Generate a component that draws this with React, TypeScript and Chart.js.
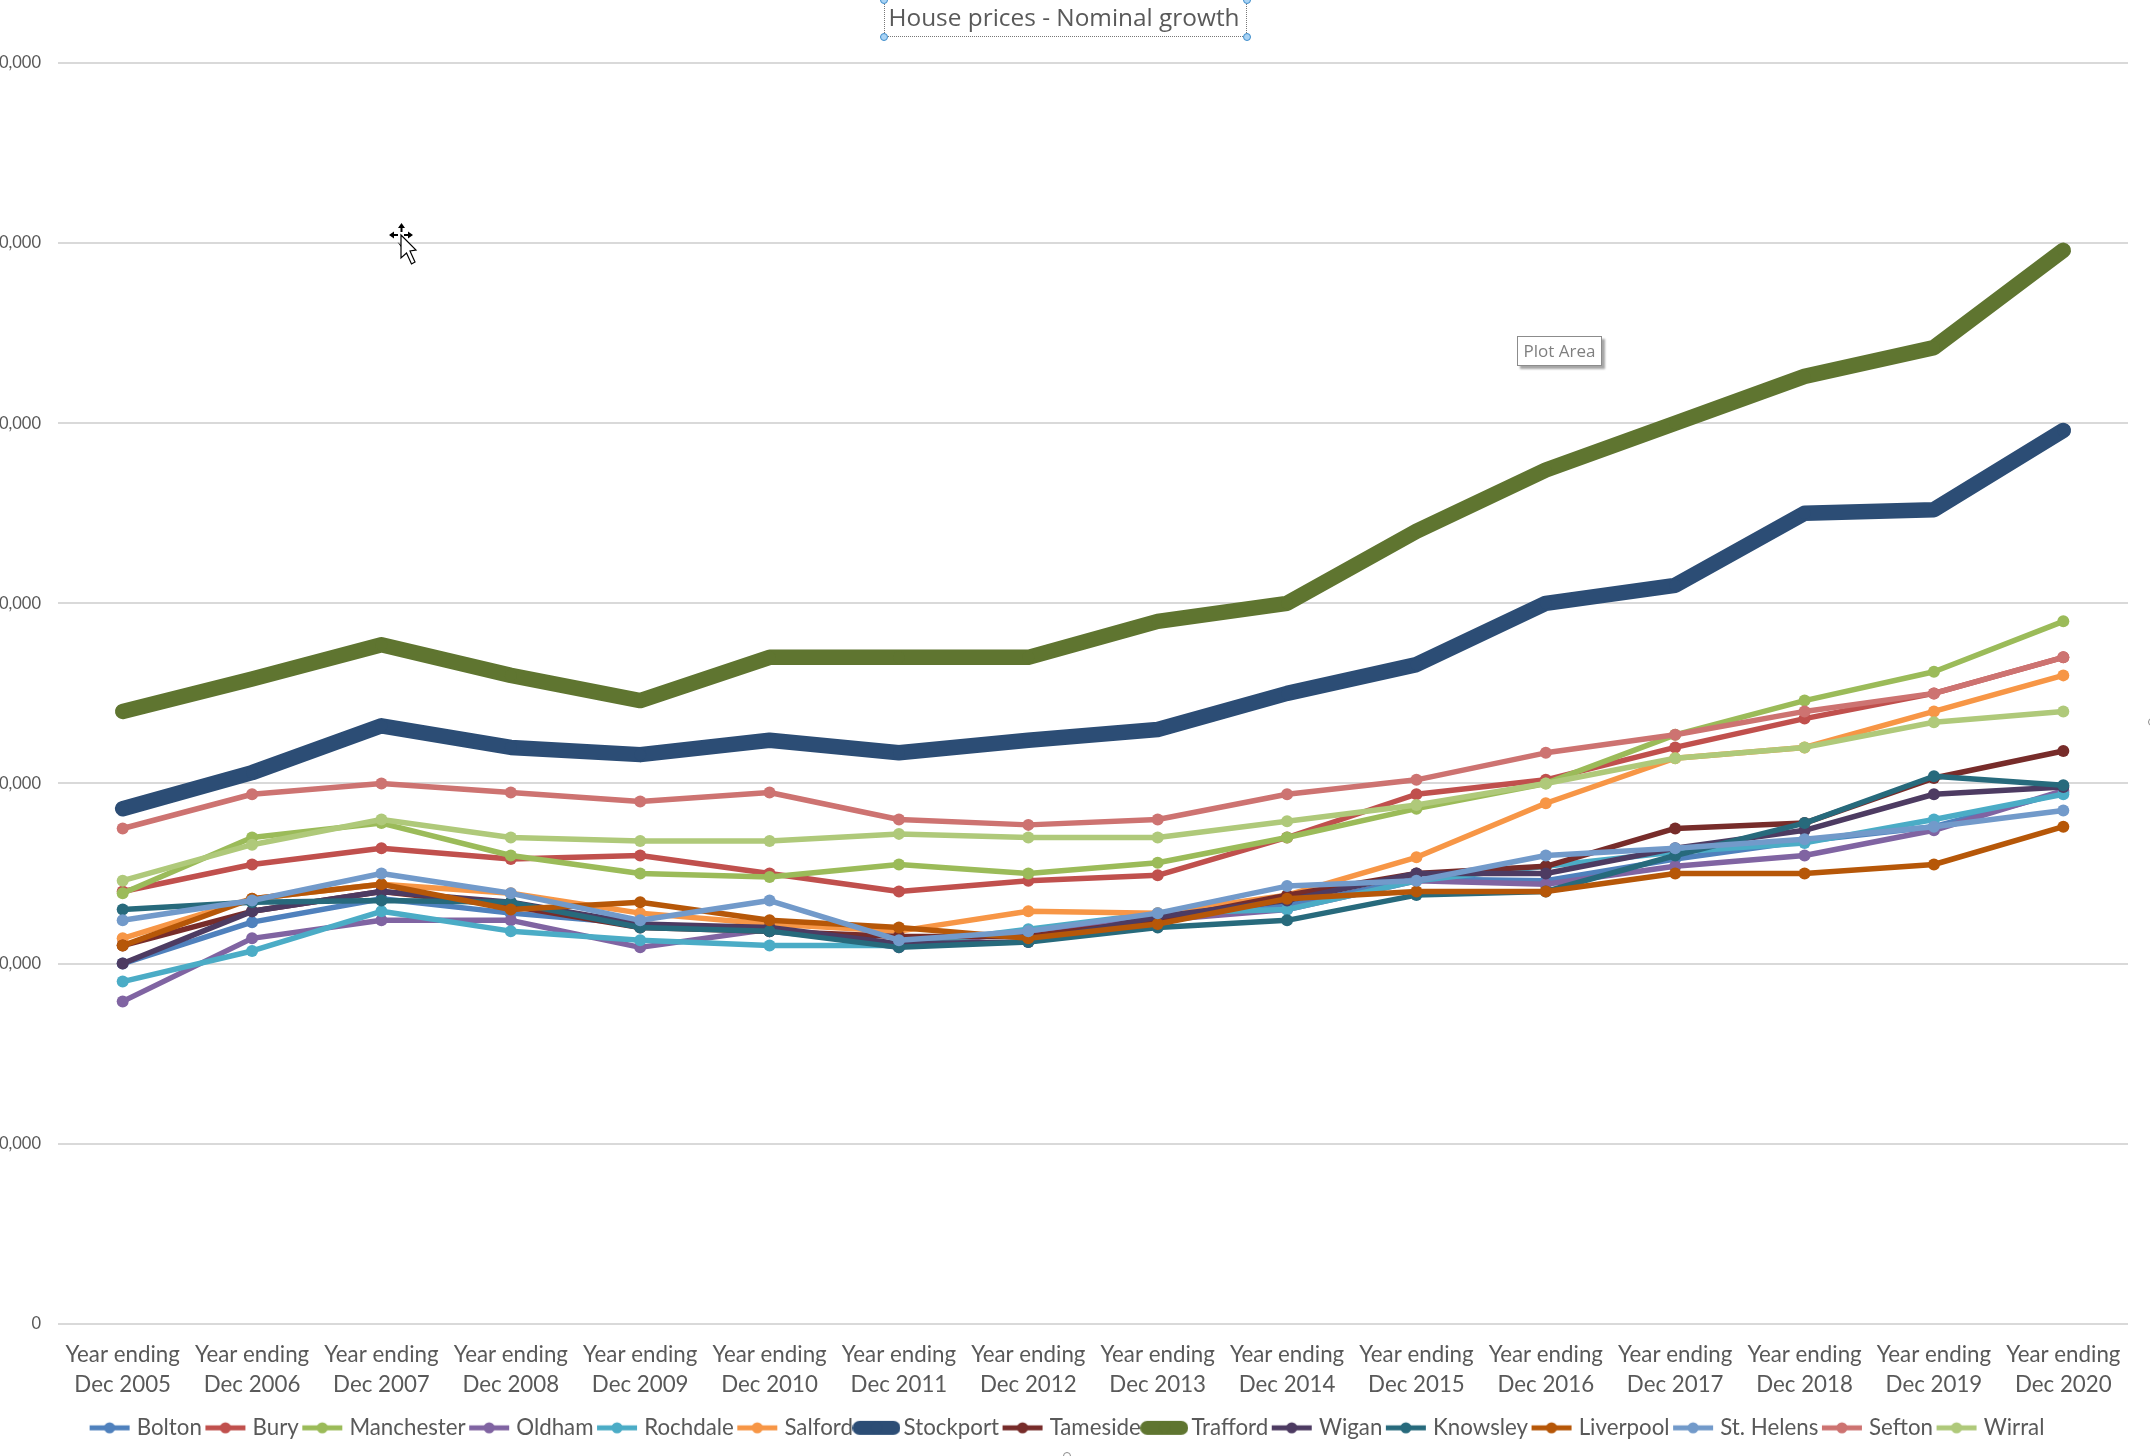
import React, { useEffect, useRef } from "react";
import { Chart, registerables } from "chart.js";

Chart.register(...registerables);

const years = ["2005","2006","2007","2008","2009","2010","2011","2012","2013","2014","2015","2016","2017","2018","2019","2020"];
const categories = years.map((y) => ["Year ending", "Dec " + y]);

const bolton =     [100000,111500,118000,114000,111000,109000,105500,109000,113000,116000,123500,123000,129000,134000,138000,147500];
const bury =       [120000,127500,132000,129000,130000,125000,120000,123000,124500,135000,147000,151000,160000,168000,175000,185000];
const manchester = [119500,135000,139000,130000,125000,124000,127500,125000,128000,135000,143000,150000,163500,173000,181000,195000];
const oldham =     [89500,107000,112000,112000,104500,109500,104500,109000,112000,115000,123000,122000,127000,130000,137000,148000];
const rochdale =   [95000,103500,114500,109000,106500,105000,105000,109500,114000,115000,123000,127000,131000,133500,140000,147000];
const salford =    [107000,118000,122000,119500,114000,111000,109000,114500,114000,119000,129500,144500,157000,160000,170000,180000];
const stockport =  [143000,153000,166000,160000,158000,162000,158500,162000,165000,175000,183000,200000,205000,225000,226000,248000];
const tameside =   [105000,114500,120000,116000,110000,109000,107500,107500,112000,119000,125000,127000,137500,139000,151500,159000];
const trafford =   [170000,179000,188500,180000,173000,185000,185000,185000,195000,200000,220000,237000,250000,263000,271000,298000];
const wigan =      [100000,114500,120000,117000,111000,110000,105500,106000,113000,117500,125000,125000,132000,137000,147000,149000];
const knowsley =   [115000,117000,117500,117000,110000,109000,104500,106000,110000,112000,119000,120000,130000,139000,152000,149500];
const liverpool =  [105000,118000,122000,115000,117000,112000,110000,107000,111000,118000,120000,120000,125000,125000,127500,138000];
const stHelens =   [112000,117500,125000,119500,112000,117500,106500,109000,114000,121500,123000,130000,132000,134500,138000,142500];
const sefton =     [137500,147000,150000,147500,145000,147500,140000,138500,140000,147000,151000,158500,163500,170000,175000,185000];
const wirral =     [123000,133000,140000,135000,134000,134000,136000,135000,135000,139500,144000,150000,157000,160000,167000,170000];

const seriesNames = ["Bolton","Bury","Manchester","Oldham","Rochdale","Salford","Stockport","Tameside","Trafford","Wigan","Knowsley","Liverpool","St. Helens","Sefton","Wirral"];
const seriesValues = [bolton,bury,manchester,oldham,rochdale,salford,stockport,tameside,trafford,wigan,knowsley,liverpool,stHelens,sefton,wirral];
const seriesColors = ["#4F81BD","#C0504D","#9BBB59","#8064A2","#4BACC6","#F79646","#2C4D75","#772C2A","#5F7530","#4D3B62","#276A7C","#B65708","#729ACA","#CD7371","#AFC97A"];
const seriesWidths = [5.5,5.5,5.5,5.5,5.5,5.5,15.5,5.5,15.5,5.5,5.5,5.5,5.5,5.5,5.5];

const yMax = 350000;
const yStep = 50000;
const titleText = "House prices - Nominal growth";
const TEXT = "#595959";

function legendSprite(color: string, width: number) {
  const c = document.createElement("canvas");
  const thick = width > 8;
  c.width = thick ? 48 : 42;
  c.height = 18;
  const g = c.getContext("2d")!;
  g.strokeStyle = color;
  g.fillStyle = color;
  g.lineWidth = thick ? 14 : 5;
  g.lineCap = thick ? "round" : "butt";
  g.beginPath();
  g.moveTo(thick ? 7 : 1, 9);
  g.lineTo(41, 9);
  g.stroke();
  g.beginPath();
  g.arc(c.width / 2, 9, 5.5, 0, Math.PI * 2);
  g.fill();
  return c;
}

const legendShift = {
  id: "legendShift",
  afterLayout(chart: any) {
    chart.legend.left += 5;
    chart.legend.right += 5;
  },
};

const Handle = ({ x, y, grey }: { x: number; y: number; grey?: boolean }) => (
  <div
    style={{
      position: "absolute",
      left: x - 4,
      top: y - 4,
      width: 8,
      height: 8,
      borderRadius: "50%",
      boxSizing: "border-box",
      border: grey ? "1.5px solid #8a8a8a" : "1.5px solid #3E8CC9",
      background: grey ? "#fff" : "#A9D3F5",
    }}
  />
);

export default function App() {
  const ref = useRef<HTMLCanvasElement>(null);

  useEffect(() => {
    document.body.style.margin = "0";
    document.body.style.background = "#fff";
    const chart = new Chart(ref.current!, {
      type: "line",
      plugins: [legendShift],
      data: {
        labels: categories,
        datasets: seriesNames.map((name, i) => ({
          label: name,
          data: seriesValues[i],
          borderColor: seriesColors[i],
          backgroundColor: seriesColors[i],
          borderWidth: seriesWidths[i],
          borderCapStyle: "round",
          borderJoinStyle: "round",
          pointRadius: 6,
          pointBorderWidth: 0,
          pointBackgroundColor: seriesColors[i],
          tension: 0,
          fill: false,
          clip: false,
          order: -i,
        })),
      } as any,
      options: {
        responsive: false,
        animation: false,
        devicePixelRatio: 1,
        layout: { padding: { left: 0, right: 22, top: 0, bottom: 7 } },
        plugins: {
          tooltip: { enabled: false },
          title: {
            display: true,
            text: titleText,
            color: TEXT,
            font: { family: "'Open Sans'", size: 24.4, weight: "normal", lineHeight: 1.2 },
            padding: { top: 4, bottom: 29.7 },
          },
          legend: {
            display: true,
            position: "bottom",
            onClick: () => {},
            labels: {
              usePointStyle: true,
              pointStyleWidth: 32,
              boxHeight: 14,
              padding: 7.5,
              color: TEXT,
              font: { family: "Lato", size: 22.3 },
              generateLabels: () =>
                seriesNames.map((name, i) => ({
                  text: name,
                  fontColor: TEXT,
                  fillStyle: seriesColors[i],
                  strokeStyle: seriesColors[i],
                  lineWidth: 0,
                  hidden: false,
                  datasetIndex: i,
                  pointStyle: legendSprite(seriesColors[i], seriesWidths[i]),
                })) as any,
            },
          },
        },
        scales: {
          x: {
            offset: true,
            afterFit: (s: any) => {
              s.height = 85.4;
            },
            grid: { display: false, drawTicks: false },
            border: { display: false },
            ticks: {
              autoSkip: false,
              maxRotation: 0,
              minRotation: 0,
              padding: 16,
              color: TEXT,
              font: { family: "Lato", size: 22.3, lineHeight: 1.345 },
            },
          },
          y: {
            min: 0,
            max: yMax,
            afterFit: (s: any) => {
              s.width = 58;
            },
            grid: { color: "#D9D9D9", lineWidth: 2, drawTicks: false },
            border: { display: false },
            ticks: {
              stepSize: yStep,
              padding: 17,
              color: TEXT,
              font: { family: "Lato", size: 16.5 },
              callback: (v: any) => Number(v).toLocaleString("en-GB"),
            },
          },
        },
      },
    } as any);
    return () => chart.destroy();
  }, []);

  return (
    <div style={{ position: "absolute", left: 0, top: 0, width: 2150, height: 1456, overflow: "hidden", background: "#fff" }}>
      <canvas ref={ref} width={2150} height={1456} style={{ display: "block", width: 2150, height: 1456 }} />
      <div style={{ position: "absolute", left: 884, top: 0, width: 363, height: 37, boxSizing: "border-box", borderLeft: "1px dotted #777", borderRight: "1px dotted #777", borderBottom: "1px dotted #777" }} />
      <Handle x={884} y={0} />
      <Handle x={1247} y={0} />
      <Handle x={884} y={37} />
      <Handle x={1247} y={37} />
      <Handle x={2152} y={722} grey />
      <Handle x={1067} y={1456} grey />
      <div
        style={{
          position: "absolute",
          left: 1517,
          top: 336,
          width: 85,
          height: 30,
          boxSizing: "border-box",
          border: "1px solid #8c8c8c",
          boxShadow: "3px 3px 2px #a6a6a6",
          background: "#fff",
          color: "#7f7f7f",
          font: "17px 'Open Sans'",
          lineHeight: "28px",
          textAlign: "center",
        }}
      >
        Plot Area
      </div>
      <svg style={{ position: "absolute", left: 385, top: 220 }} width={36} height={50} viewBox="0 0 36 50">
        <path d="M16.5 3 L20 8 L17.5 8 L17.5 12 L15.5 12 L15.5 8 L13 8 Z M4 15 L9 11.5 L9 14 L13 14 L13 16 L9 16 L9 18.5 Z M28 15 L23 11.5 L23 14 L19 14 L19 16 L23 16 L23 18.5 Z M12.5 22 L16 25 L16 27 Z" fill="#000" />
        <path d="M16 15 L31 30 L25 31 L30 42 L26.5 44 L21.5 33 L16 38 Z" fill="#fff" stroke="#000" strokeWidth="1.2" />
      </svg>
    </div>
  );
}
